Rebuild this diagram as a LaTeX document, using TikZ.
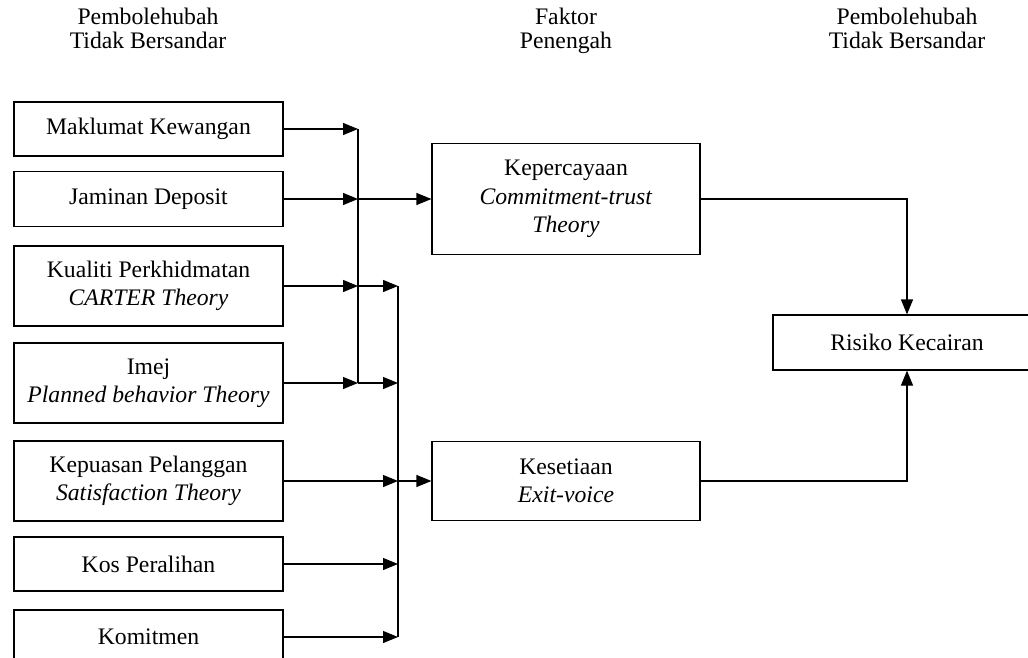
\documentclass[tikz,border=0pt]{standalone}
\usepackage{fontspec}
\setmainfont{Liberation Serif}
\usetikzlibrary{arrows.meta}
\tikzset{
  box/.style={draw, line width=0.6pt, align=center, inner sep=0pt, font=\fontsize{11.85}{14.25}\selectfont},
  lbox/.style={box, minimum width=134.5pt},
  mbox/.style={box, minimum width=134pt},
  hdr/.style={anchor=base, inner sep=0pt, font=\fontsize{11.85}{12}\selectfont},
  line/.style={line width=0.6pt},
  arr/.style={line width=0.6pt, -{Triangle[length=7.5pt,width=6pt]}}
}
\begin{document}
\begin{tikzpicture}[x=0.5pt,y=-0.5pt]
\useasboundingbox (0,0) rectangle (1028,658);
\clip (0,0) rectangle (1028,658);
% headers
\node[hdr] (h1a) at (148,25) {Pembolehubah};
\node[hdr] (h1b) at (148,49) {Tidak Bersandar};
\node[hdr] (h2a) at (566,25) {Faktor};
\node[hdr] (h2b) at (566,49) {Penengah};
\node[hdr] (h3a) at (907,25) {Pembolehubah};
\node[hdr] (h3b) at (907,49) {Tidak Bersandar};
% left boxes
\node[lbox, minimum height=27pt] (b1) at (148.5,129) {Maklumat Kewangan};
\node[lbox, minimum height=27.5pt] (b2) at (148.5,199) {Jaminan Deposit};
\node[lbox, minimum height=40pt] (b3) at (148.5,286) {Kualiti Perkhidmatan\\\textit{CARTER Theory}};
\node[lbox, minimum height=40pt] (b4) at (148.5,383) {Imej\\\textit{Planned behavior Theory}};
\node[lbox, minimum height=40pt] (b5) at (148.5,481) {Kepuasan Pelanggan\\\textit{Satisfaction Theory}};
\node[lbox, minimum height=27pt] (b6) at (148.5,564) {Kos Peralihan};
\node[lbox, minimum height=27pt] (b7) at (148.5,637) {Komitmen};
% middle boxes
\node[mbox, minimum height=55.5pt] (kep) at (566,199) {Kepercayaan\\\textit{Commitment-trust}\\\textit{Theory}};
\node[mbox, minimum height=39.5pt] (kes) at (566,481) {Kesetiaan\\\textit{Exit-voice}};
% right box
\node[mbox, minimum height=27.5pt] (ris) at (907,342.5) {Risiko Kecairan};
% junction columns
\coordinate (v1) at (358,0);
\coordinate (v2) at (398,0);
% arrows into first bus
\draw[arr] (b1.east) -- (b1.east -| v1);
\draw[arr] (b2.east) -- (b2.east -| v1);
\draw[arr] (b3.east) -- (b3.east -| v1);
\draw[arr] (b4.east) -- (b4.east -| v1);
\draw[line] (b1.east -| v1) -- (b4.east -| v1);
% first bus onward
\draw[arr] (b2.east -| v1) -- (kep.west);
\draw[arr] (b3.east -| v1) -- (b3.east -| v2);
\draw[arr] (b4.east -| v1) -- (b4.east -| v2);
% arrows into second bus
\draw[arr] (b5.east) -- (b5.east -| v2);
\draw[arr] (b6.east) -- (b6.east -| v2);
\draw[arr] (b7.east) -- (b7.east -| v2);
\draw[line] (b3.east -| v2) -- (b7.east -| v2);
\draw[arr] (b5.east -| v2) -- (kes.west);
% to outcome
\draw[arr] (kep.east) -| (ris.north);
\draw[arr] (kes.east) -| (ris.south);
\end{tikzpicture}
\end{document}
